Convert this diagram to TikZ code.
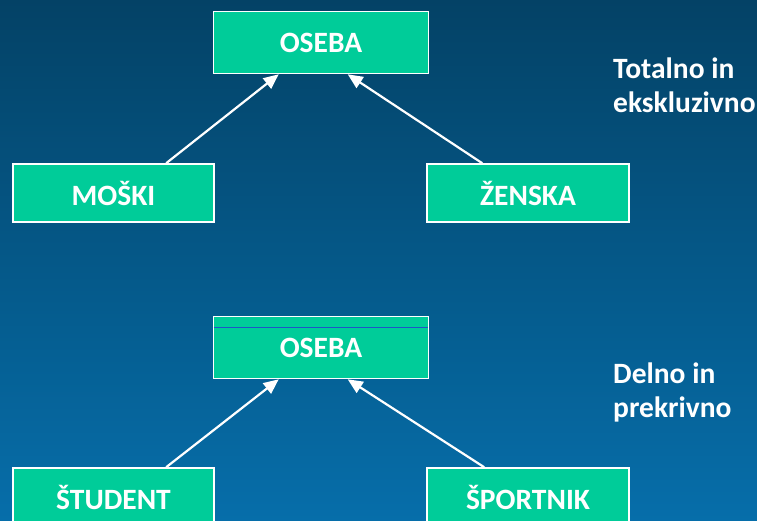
\documentclass[tikz,border=0pt]{standalone}
\usepackage{fontspec}
\setmainfont{Carlito}
\usetikzlibrary{arrows.meta}
\definecolor{bgtop}{RGB}{4,66,102}
\definecolor{bgbot}{RGB}{6,110,170}
\definecolor{boxgreen}{RGB}{0,204,153}
\definecolor{rule}{RGB}{30,85,200}
\tikzset{
  entity/.style={draw=white, line width=1.6pt, fill=boxgreen, text=white,
    font=\fontsize{29.5}{34}\selectfont\bfseries, minimum width=215pt,
    inner sep=0pt},
  isa/.style={draw=white, line width=2.2pt,
    -{Triangle[length=15pt,width=13pt]}},
  note/.style={text=white, font=\fontsize{29.5}{34}\selectfont\bfseries,
    anchor=base west, inner sep=0pt}
}
\begin{document}
\begin{tikzpicture}[x=1pt,y=-1pt]
  % background
  \shade[top color=bgtop, bottom color=bgbot] (0,0) rectangle (757,521);
  \useasboundingbox (0,0) rectangle (757,521);

  % upper hierarchy: total and exclusive
  \node[entity, minimum height=62pt] (oseba1) at (321,42.5) {OSEBA};
  \node[entity, minimum height=58pt, minimum width=201pt] (moski) at (113.5,193) {MOŠKI};
  \node[entity, minimum height=58pt, minimum width=202pt] (zenska) at (528,193) {ŽENSKA};
  \draw[isa] ([xshift=154pt]moski.north west) -- ([xshift=66pt]oseba1.south west);
  \draw[isa] ([xshift=56pt]zenska.north west) -- ([xshift=135pt]oseba1.south west);
  \node[note] (t1) at (613,79) {Totalno in};
  \node[note] (t2) at (613,113) {ekskluzivno};

  % lower hierarchy: partial and overlapping
  \node[entity, minimum height=62pt] (oseba2) at (321,347.5) {OSEBA};
  \draw[rule, line width=1pt] ([yshift=-12pt,xshift=1pt]oseba2.north west) -- ([yshift=-12pt,xshift=-1pt]oseba2.north east);
  \node[entity, minimum height=58pt, minimum width=201pt] (student) at (113.5,497) {ŠTUDENT};
  \node[entity, minimum height=58pt, minimum width=202pt] (sportnik) at (528,497) {ŠPORTNIK};
  \draw[isa] ([xshift=154pt]student.north west) -- ([xshift=66pt]oseba2.south west);
  \draw[isa] ([xshift=58pt]sportnik.north west) -- ([xshift=135pt]oseba2.south west);
  \node[note] (d1) at (613,383) {Delno in};
  \node[note] (d2) at (613,417) {prekrivno};
\end{tikzpicture}
\end{document}
